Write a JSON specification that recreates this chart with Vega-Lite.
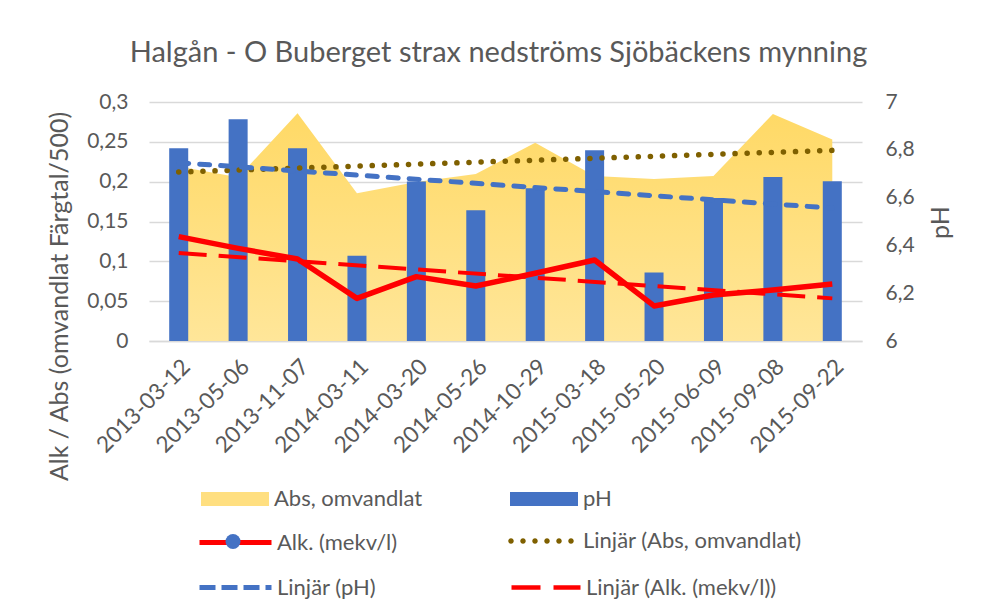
{
  "$schema": "https://vega.github.io/schema/vega-lite/v6.json",
  "width": 713,
  "height": 239,
  "autosize": {"type": "none"},
  "padding": {"left": 149, "top": 102, "right": 125, "bottom": 271},
  "background": "white",
  "title": {
    "text": "Halgån - O Buberget strax nedströms Sjöbäckens mynning",
    "font": "Lato", "fontSize": 29, "fontWeight": "normal", "color": "#595959",
    "anchor": "middle", "baseline": "alphabetic", "offset": 0, "dx": -7
  },
  "config": {
    "view": {"stroke": null},
    "axis": {"labelFont": "Lato", "labelColor": "#595959", "titleFont": "Lato", "titleColor": "#595959", "titleFontWeight": "normal"},
    "legend": {"title": null, "orient": "none", "symbolOpacity": 1, "labelFont": "Lato", "labelFontSize": 22, "labelColor": "#595959", "labelLimit": 400, "symbolSize": 400, "labelOffset": 52}
  },
  "datasets": {
    "main": [
      {"date": "2013-03-12", "abs": 0.219, "ph": 6.807, "alk": 0.131},
      {"date": "2013-05-06", "abs": 0.2055, "ph": 6.928, "alk": 0.1163},
      {"date": "2013-11-07", "abs": 0.2858, "ph": 6.807, "alk": 0.103},
      {"date": "2014-03-11", "abs": 0.1854, "ph": 6.357, "alk": 0.0535},
      {"date": "2014-03-20", "abs": 0.1996, "ph": 6.667, "alk": 0.0808},
      {"date": "2014-05-26", "abs": 0.2096, "ph": 6.547, "alk": 0.069},
      {"date": "2014-10-29", "abs": 0.249, "ph": 6.639, "alk": 0.085},
      {"date": "2015-03-18", "abs": 0.207, "ph": 6.798, "alk": 0.1017},
      {"date": "2015-05-20", "abs": 0.2033, "ph": 6.287, "alk": 0.044},
      {"date": "2015-06-09", "abs": 0.207, "ph": 6.598, "alk": 0.0577},
      {"date": "2015-09-08", "abs": 0.285, "ph": 6.686, "alk": 0.064},
      {"date": "2015-09-22", "abs": 0.253, "ph": 6.668, "alk": 0.0715}
    ],
    "trend": [
      {"date": "2013-03-12", "absT": 0.2121, "phT": 6.746, "alkT": 0.1105},
      {"date": "2015-09-22", "absT": 0.2393, "phT": 6.556, "alkT": 0.0535}
    ],
    "one": [{"k": 1}]
  },
  "resolve": {"scale": {"y": "independent", "color": "independent"}, "legend": {"color": "independent"}},
  "layer": [
    {
      "data": {"name": "main"},
      "mark": {"type": "area", "color": {"gradient": "linear", "x1": 0, "y1": 0, "x2": 0, "y2": 1, "stops": [{"offset": 0, "color": "#FFD966"}, {"offset": 1, "color": "#FFE699"}]}},
      "encoding": {
        "x": {"field": "date", "type": "ordinal", "scale": {"paddingInner": 0.68, "paddingOuter": 0.34},
          "axis": {"title": null, "labelAngle": -45, "labelFontSize": 22.5, "ticks": false, "domainColor": "#D9D9D9", "domainWidth": 1.5, "labelPadding": 14, "grid": false}},
        "y": {"field": "abs", "type": "quantitative", "scale": {"domain": [0, 0.3]},
          "axis": {"orient": "left", "values": [0, 0.05, 0.1, 0.15, 0.2, 0.25, 0.3], "labelExpr": "replace(toString(datum.value), '.', ',')",
            "title": "Alk / Abs (omvandlat Färgtal/500)", "grid": true, "gridColor": "#D9D9D9", "gridWidth": 1.3, "domain": false, "ticks": false,
            "labelFontSize": 21, "labelPadding": 21, "titleX": -82, "titleY": 194, "titleAngle": -90, "titleAlign": "center", "titleBaseline": "alphabetic", "titleFontSize": 25}}
      }
    },
    {
      "data": {"name": "main"},
      "mark": {"type": "bar", "color": "#4472C4"},
      "encoding": {
        "x": {"field": "date", "type": "ordinal"},
        "y": {"field": "ph", "type": "quantitative", "scale": {"domain": [6, 7], "zero": false},
          "axis": {"orient": "right", "values": [6, 6.2, 6.4, 6.6, 6.8, 7], "labelExpr": "replace(toString(datum.value), '.', ',')",
            "title": "pH", "grid": false, "domain": false, "ticks": false, "labelFontSize": 21, "labelPadding": 23,
            "titleX": 86, "titleY": 120, "titleAngle": -90, "titleAlign": "center", "titleBaseline": "alphabetic", "titleFontSize": 25}},
        "y2": {"datum": 6}
      }
    },
    {
      "data": {"name": "main"},
      "mark": {"type": "line", "color": "#FF0000", "strokeWidth": 5.5, "strokeJoin": "round"},
      "encoding": {
        "x": {"field": "date", "type": "ordinal"},
        "y": {"field": "alk", "type": "quantitative", "scale": {"domain": [0, 0.3]}, "axis": null}
      }
    },
    {
      "data": {"name": "trend"},
      "mark": {"type": "line", "color": "#7F6000", "strokeWidth": 5.5, "strokeDash": [0.1, 12], "strokeCap": "round"},
      "encoding": {
        "x": {"field": "date", "type": "ordinal"},
        "y": {"field": "absT", "type": "quantitative", "scale": {"domain": [0, 0.3]}, "axis": null}
      }
    },
    {
      "data": {"name": "trend"},
      "mark": {"type": "line", "color": "#4472C4", "strokeWidth": 5, "strokeDash": [10, 11], "strokeCap": "round"},
      "encoding": {
        "x": {"field": "date", "type": "ordinal"},
        "y": {"field": "phT", "type": "quantitative", "scale": {"domain": [6, 7], "zero": false}, "axis": null}
      }
    },
    {
      "data": {"name": "trend"},
      "mark": {"type": "line", "color": "#FF0000", "strokeWidth": 4, "strokeDash": [28, 12]},
      "encoding": {
        "x": {"field": "date", "type": "ordinal"},
        "y": {"field": "alkT", "type": "quantitative", "scale": {"domain": [0, 0.3]}, "axis": null}
      }
    },
    {
      "data": {"name": "one"},
      "mark": {"type": "point", "opacity": 0, "filled": true},
      "encoding": {
        "color": {"datum": "Abs, omvandlat", "scale": {"range": ["#FFDF80"]},
          "legend": {"legendX": 51, "legendY": 386, "symbolType": "M-1,-0.7L5.8,-0.7L5.8,0.7L-1,0.7Z", "symbolStrokeWidth": 0}}
      }
    },
    {
      "data": {"name": "one"},
      "mark": {"type": "point", "opacity": 0, "filled": true},
      "encoding": {
        "color": {"datum": "pH", "scale": {"range": ["#4472C4"]},
          "legend": {"legendX": 360, "legendY": 386, "symbolType": "M-1,-0.7L5.8,-0.7L5.8,0.7L-1,0.7Z", "symbolStrokeWidth": 0}}
      }
    },
    {
      "data": {"name": "one"},
      "mark": {"type": "point", "opacity": 0},
      "encoding": {
        "color": {"datum": "Alk. (mekv/l)", "scale": {"range": ["#FF0000"]},
          "legend": {"legendX": 51, "legendY": 428, "symbolType": "M-1.3,0L5.9,0", "symbolStrokeWidth": 5}}
      }
    },
    {
      "data": {"name": "one"},
      "mark": {"type": "point", "opacity": 0, "filled": true},
      "encoding": {
        "color": {"datum": "Linjär (Abs, omvandlat)", "scale": {"range": ["#7F6000"]},
          "legend": {"legendX": 360, "legendY": 428, "symbolStrokeWidth": 0,
            "symbolType": "M-0.625,0A0.275,0.275 0 1,0 -1.175,0A0.275,0.275 0 1,0 -0.625,0Z M0.575,0A0.275,0.275 0 1,0 0.025,0A0.275,0.275 0 1,0 0.575,0Z M1.775,0A0.275,0.275 0 1,0 1.225,0A0.275,0.275 0 1,0 1.775,0Z M2.975,0A0.275,0.275 0 1,0 2.425,0A0.275,0.275 0 1,0 2.975,0Z M4.175,0A0.275,0.275 0 1,0 3.625,0A0.275,0.275 0 1,0 4.175,0Z M5.375,0A0.275,0.275 0 1,0 4.825,0A0.275,0.275 0 1,0 5.375,0Z"}}
      }
    },
    {
      "data": {"name": "one"},
      "mark": {"type": "point", "opacity": 0},
      "encoding": {
        "color": {"datum": "Linjär (pH)", "scale": {"range": ["#4472C4"]},
          "legend": {"legendX": 51, "legendY": 473, "symbolType": "M-1.3,0L5.9,0", "symbolStrokeWidth": 5, "symbolDash": [16, 6]}}
      }
    },
    {
      "data": {"name": "one"},
      "mark": {"type": "point", "opacity": 0},
      "encoding": {
        "color": {"datum": "Linjär (Alk. (mekv/l))", "scale": {"range": ["#FF0000"]},
          "legend": {"legendX": 360, "legendY": 473, "symbolType": "M-1,0L5.9,0", "symbolStrokeWidth": 4.5, "symbolDash": [29, 13]}}
      }
    },
    {
      "data": {"name": "one"},
      "mark": {"type": "point", "opacity": 0, "filled": true},
      "encoding": {
        "color": {"datum": " ", "scale": {"range": ["#4472C4"]},
          "legend": {"legendX": 76.5, "legendY": 432, "symbolSize": 225, "symbolType": "circle", "symbolStrokeWidth": 0, "labelExpr": "''", "labelFontSize": 1, "labelOffset": 0}}
      }
    }
  ]
}
